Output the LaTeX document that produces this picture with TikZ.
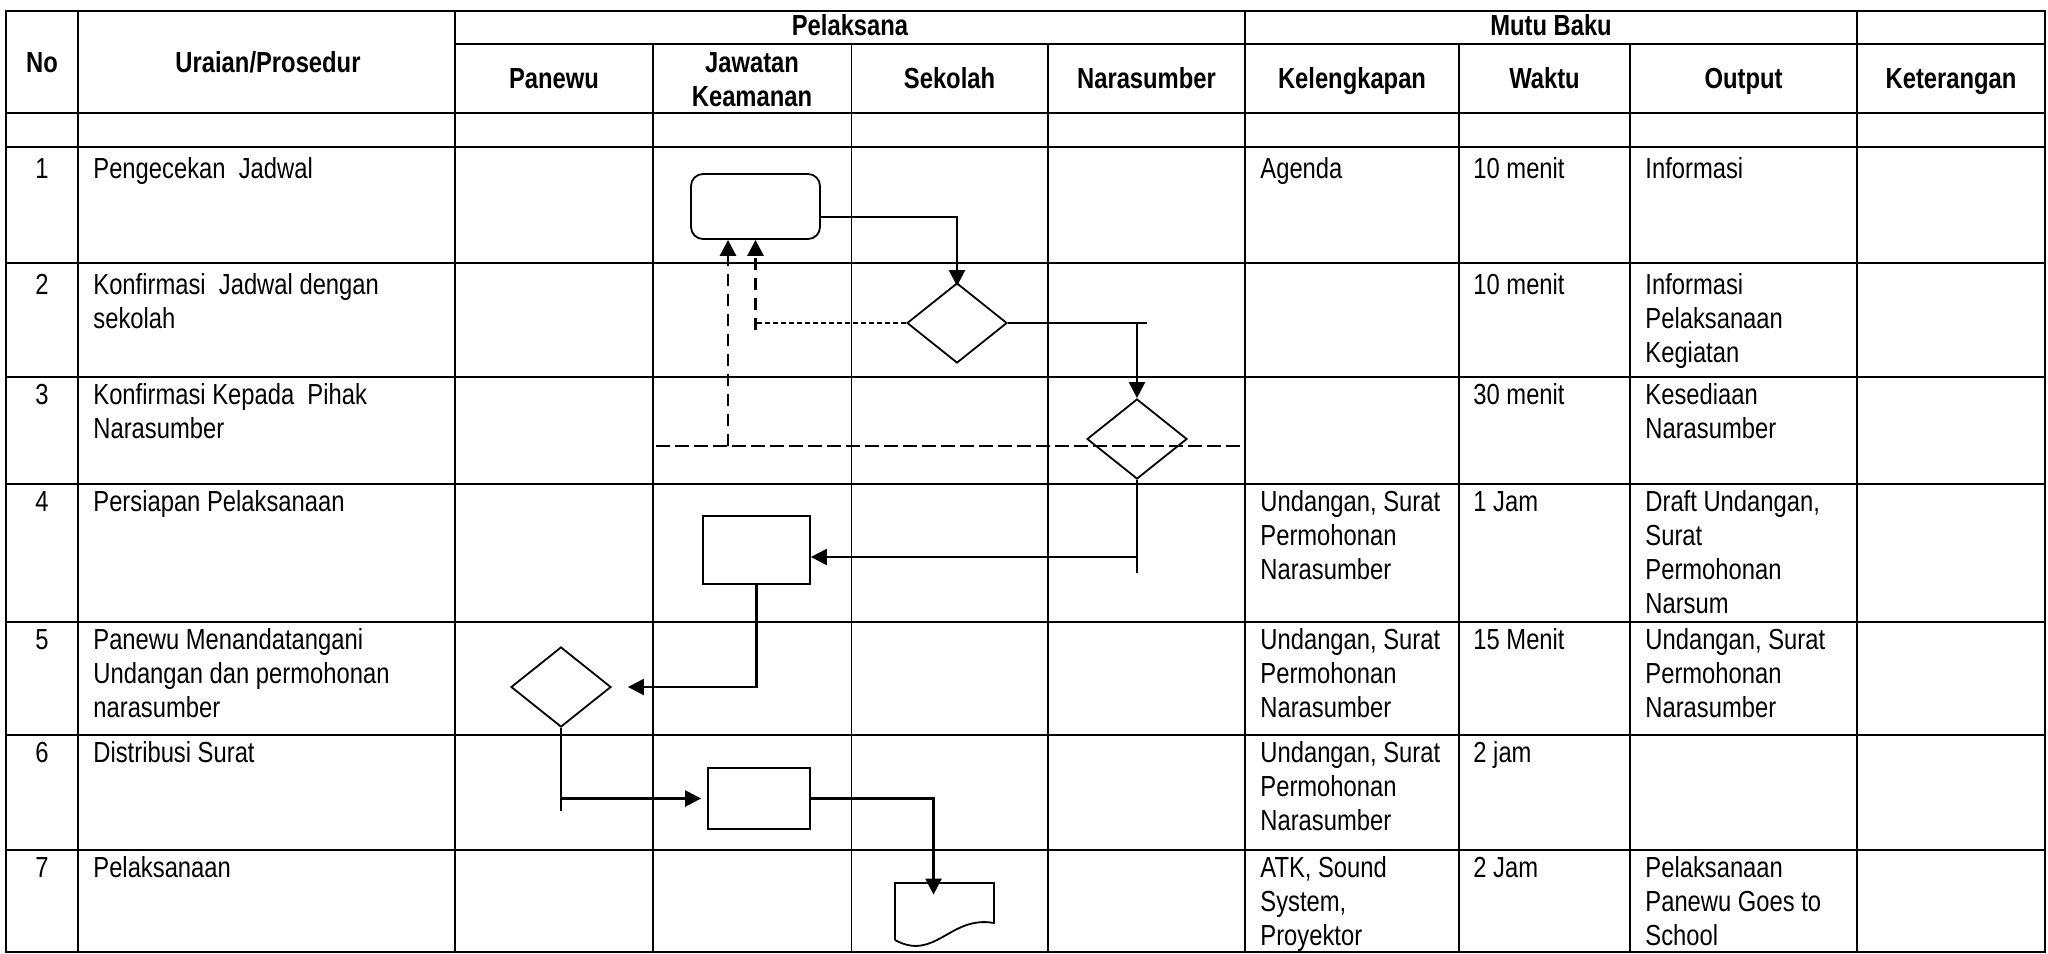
\documentclass[tikz,border=0pt]{standalone}
\usepackage{fontspec}
\setmainfont{Liberation Sans}[FakeStretch=0.82]
\usetikzlibrary{arrows.meta,shapes.geometric}
\newcommand{\cellfont}{\fontsize{14.5}{17}\selectfont}
\newcommand{\mlines}[1]{\begin{tabular}[t]{@{}l@{}}#1\end{tabular}}
\begin{document}
\begin{tikzpicture}[x=0.5pt, y=-0.5pt,
  grid/.style={line width=1pt},
  thingrid/.style={line width=0.5pt},
  hd/.style={font=\cellfont\bfseries, inner sep=0, anchor=base},
  nr/.style={font=\cellfont, inner sep=0, anchor=base},
  tx/.style={font=\cellfont, inner sep=0, anchor=base west},
  ahead/.style={-{Triangle[length=8pt,width=8pt]}},
  arr/.style={line width=1.2pt, ahead},
  ln/.style={line width=0.8pt},
  box/.style={draw, line width=0.9pt, inner sep=0},
  dec/.style={draw, diamond, line width=0.9pt, inner sep=0, minimum width=50pt, minimum height=40pt},
  ldash/.style={line width=1.4pt, dash pattern=on 7pt off 2.5pt},
  vdash/.style={line width=1.4pt, dash pattern=on 6pt off 4pt},
  fdash/.style={line width=0.8pt, dash pattern=on 2.5pt off 1.5pt}]
\useasboundingbox (0,0) rectangle (2048,953);
% table grid
\draw[grid] (6,11) rectangle (2045,952);
\foreach \y in {113,147,263,377,484,622,735,850} \draw[grid] (6,\y) -- (2045,\y);
\draw[grid] (455,44) -- (2045,44);
\foreach \x in {78,455,1245,1857} \draw[grid] (\x,11) -- (\x,952);
\foreach \x in {653,1048,1459,1630} \draw[grid] (\x,44) -- (\x,952);
\draw[thingrid] (851,44) -- (851,952);
% headers
\node[hd] (hPel) at (850,35) {Pelaksana};
\node[hd] (hMutu) at (1551,35) {Mutu Baku};
\node[hd] (hNo) at (42,72) {No};
\node[hd] (hUr) at (268,72) {Uraian/Prosedur};
\node[hd] (hPan) at (554,88) {Panewu};
\node[hd] (hJaw) at (752,72) {\begin{tabular}[t]{@{}c@{}}Jawatan\\Keamanan\end{tabular}};
\node[hd] (hSek) at (949.5,88) {Sekolah};
\node[hd] (hNar) at (1146.5,88) {Narasumber};
\node[hd] (hKel) at (1352,88) {Kelengkapan};
\node[hd] (hWak) at (1544.5,88) {Waktu};
\node[hd] (hOut) at (1743.5,88) {Output};
\node[hd] (hKet) at (1951,88) {Keterangan};
% row 1
\node[nr] (n1) at (42,178) {1};
\node[tx] (u1) at (93,178) {Pengecekan~ Jadwal};
\node[tx] (k1) at (1260,178) {Agenda};
\node[tx] (w1) at (1473,178) {10 menit};
\node[tx] (o1) at (1645,178) {Informasi};
% row 2
\node[nr] (n2) at (42,294) {2};
\node[tx] (u2) at (93,294) {\mlines{Konfirmasi~ Jadwal dengan\\sekolah}};
\node[tx] (w2) at (1473,294) {10 menit};
\node[tx] (o2) at (1645,294) {\mlines{Informasi\\Pelaksanaan\\Kegiatan}};
% row 3
\node[nr] (n3) at (42,404) {3};
\node[tx] (u3) at (93,404) {\mlines{Konfirmasi Kepada~ Pihak\\Narasumber}};
\node[tx] (w3) at (1473,404) {30 menit};
\node[tx] (o3) at (1645,404) {\mlines{Kesediaan\\Narasumber}};
% row 4
\node[nr] (n4) at (42,511) {4};
\node[tx] (u4) at (93,511) {Persiapan Pelaksanaan};
\node[tx] (k4) at (1260,511) {\mlines{Undangan, Surat\\Permohonan\\Narasumber}};
\node[tx] (w4) at (1473,511) {1 Jam};
\node[tx] (o4) at (1645,511) {\mlines{Draft Undangan,\\Surat\\Permohonan\\Narsum}};
% row 5
\node[nr] (n5) at (42,649) {5};
\node[tx] (u5) at (93,649) {\mlines{Panewu Menandatangani\\Undangan dan permohonan\\narasumber}};
\node[tx] (k5) at (1260,649) {\mlines{Undangan, Surat\\Permohonan\\Narasumber}};
\node[tx] (w5) at (1473,649) {15 Menit};
\node[tx] (o5) at (1645,649) {\mlines{Undangan, Surat\\Permohonan\\Narasumber}};
% row 6
\node[nr] (n6) at (42,762) {6};
\node[tx] (u6) at (93,762) {Distribusi Surat};
\node[tx] (k6) at (1260,762) {\mlines{Undangan, Surat\\Permohonan\\Narasumber}};
\node[tx] (w6) at (1473,762) {2 jam};
% row 7
\node[nr] (n7) at (42,877) {7};
\node[tx] (u7) at (93,877) {Pelaksanaan};
\node[tx] (k7) at (1260,877) {\mlines{ATK, Sound\\System,\\Proyektor}};
\node[tx] (w7) at (1473,877) {2 Jam};
\node[tx] (o7) at (1645,877) {\mlines{Pelaksanaan\\Panewu Goes to\\School}};
% flow shapes
\node[box, rounded corners=6pt, minimum width=64.5pt, minimum height=32.5pt] (r1) at (755.5,206.5) {};
\node[dec] (d1) at (957,323) {};
\node[dec] (d2) at (1137,439) {};
\node[box, minimum width=53.5pt, minimum height=34pt] (r2) at (756.5,550) {};
\node[dec] (d3) at (561,687) {};
\node[box, minimum width=51pt, minimum height=30.5pt] (r3) at (759,798.5) {};
\node[inner sep=0, minimum width=49.5pt, minimum height=28.5pt] (doc) at (944.5,911.5) {};
\draw[line width=0.9pt] (895,940) -- (895,883) -- (994,883) -- (994,923) .. controls (950,915) and (935,962) .. (895,940);
% connectors
\coordinate (c217) at (0,217);
\coordinate (c330) at (0,330);
\coordinate (c557) at (0,557);
\coordinate (v1) at (728,446);
\coordinate (h1) at (656,446);
\coordinate (h2) at (1240,446);
\draw[arr, shorten >=-2pt] (r1.east |- c217) -| (d1.north);
\draw[ln] (d1.east) -- ++(139,0);
\draw[arr] (d1.east -| d2.north) -- (d2.north);
\draw[fdash] (d1.west) -- (d1.west -| r1.south);
\draw[vdash, ahead] (r1.south |- c330) -- (r1.south);
\draw[ldash] (h1) -- (h2);
\draw[vdash, ahead] (v1) -- (v1 |- r1.south);
\draw[ln] (d2.south) -- ++(0,93);
\draw[arr] (d2.south |- c557) -- (r2.east |- c557);
\draw[arr, shorten >=8pt] (r2.south) |- (d3.east);
\draw[ln] (d3.south) -- ++(0,83);
\draw[arr, shorten >=3pt] (d3.south |- r3.west) -- (r3.west);
\draw[arr, shorten >=-6pt] (r3.east) -| ([xshift=-5.5pt]doc.north);
\end{tikzpicture}
\end{document}
